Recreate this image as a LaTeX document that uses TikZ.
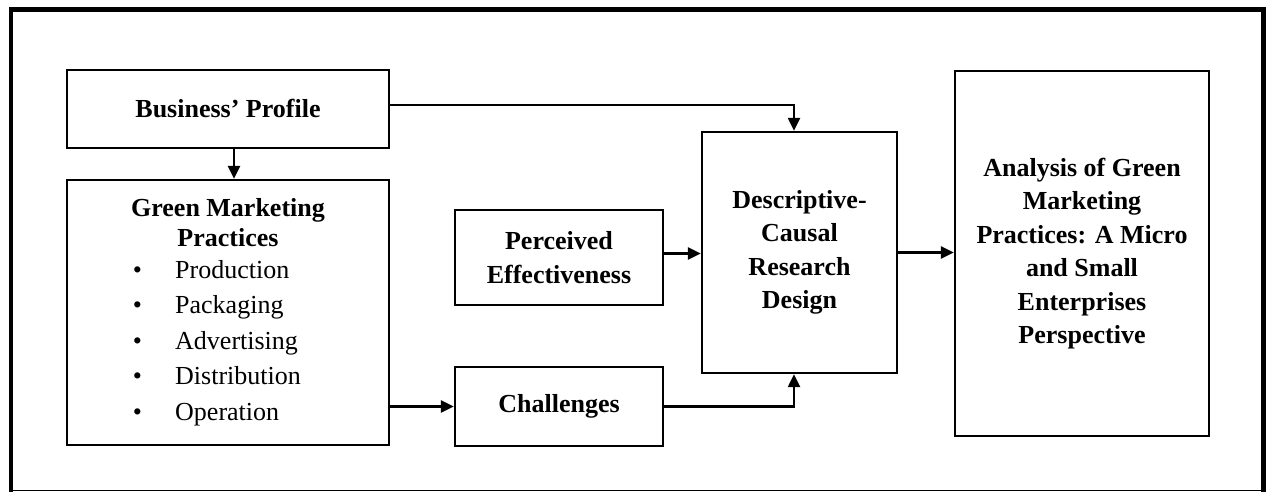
\documentclass[tikz,border=0pt]{standalone}
\usepackage{fontspec}
\setmainfont{Liberation Serif}
\usetikzlibrary{arrows.meta}
\begin{document}
\begin{tikzpicture}[x=1pt,y=-1pt,
  box/.style={draw,line width=2.4pt,inner sep=0pt,align=center,font=\fontsize{26}{33.5}\selectfont\bfseries},
  title/.style={anchor=base,inner sep=0pt,font=\fontsize{26}{30}\selectfont\bfseries},
  item/.style={anchor=base west,inner sep=0pt,font=\fontsize{26}{34}\selectfont},
  conn/.style={line width=2.4pt,-{Triangle[length=13pt,width=12pt]}}]
\useasboundingbox (0,0) rectangle (1266,492);
% outer frame
\draw[line width=4.5pt] (11,492) -- (11,9.5) -- (1263.5,9.5) -- (1263.5,492);
\draw[line width=1.5pt] (11,490.6) -- (1263.5,490.6);
% boxes
\node[box,minimum width=322pt,minimum height=78pt] (bp) at (228,109) {Business’ Profile};
\node[box,minimum width=322pt,minimum height=265pt] (gm) at (228,312.5) {};
\node[title] (gmt1) at (228,216.7) {Green Marketing};
\node[title] (gmt2) at (228,246.7) {Practices};
\foreach \t/\y/\n in {Production/278.5/a,Packaging/313.5/b,Advertising/349/c,Distribution/384.5/d,Operation/420/e}{
  \node[item,anchor=base] (bul\n) at (137.5,\y) {•};
  \node[item] (it\n) at (175,\y) {\t};
}
\node[box,minimum width=208pt,minimum height=95pt] (pe) at (559,257.5) {Perceived\\Effectiveness};
\node[box,minimum width=208pt,minimum height=79pt] (ch) at (559,406.5) {Challenges};
\node[box,minimum width=195pt,minimum height=241pt] (dc) at (799.5,252.5) {Descriptive-\\Causal\\Research\\Design};
\node[box,minimum width=254pt,minimum height=365pt] (an) at (1082,253.5) {Analysis of Green\\Marketing\\Practices: A Micro\\and Small\\Enterprises\\Perspective};
% connectors
\draw[conn] ([yshift=4pt]bp.east) -| ([xshift=-5.5pt]dc.north);
\draw[conn] ([xshift=6pt]bp.south) -- ([xshift=6pt]gm.north);
\draw[conn] (gm.east |- ch.west) -- (ch.west);
\draw[conn] ([yshift=4pt]pe.east) coordinate (pa) -- (pa -| dc.west);
\draw[conn] (ch.east) -| ([xshift=-5.5pt]dc.south);
\draw[conn] (dc.east) -- (dc.east -| an.west);
\end{tikzpicture}
\end{document}
